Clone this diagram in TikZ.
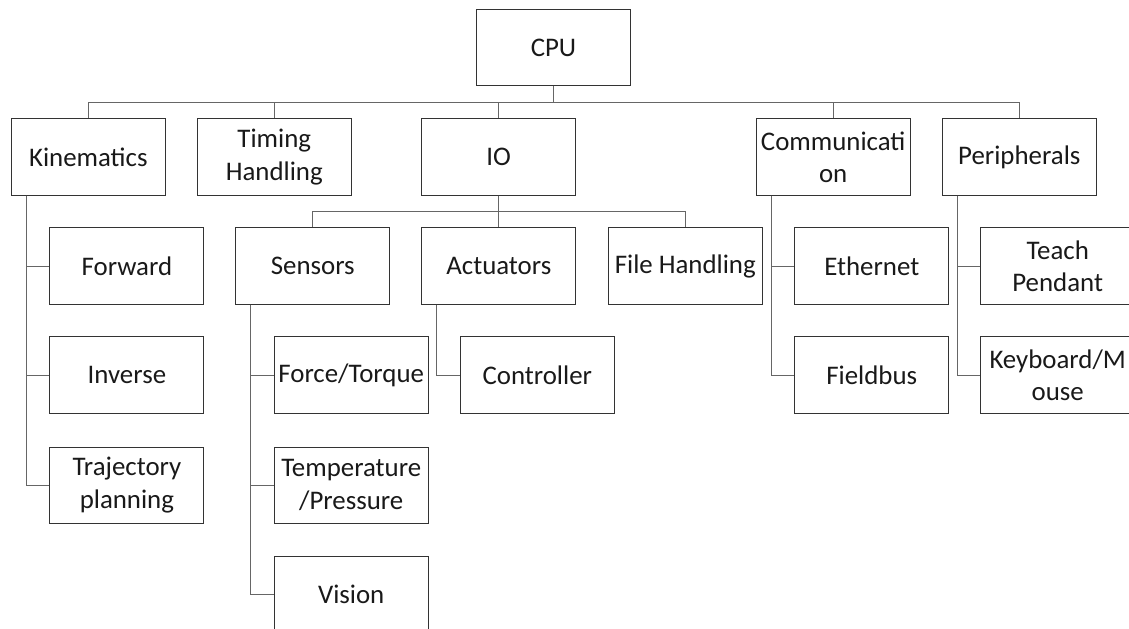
\documentclass[tikz,border=0pt]{standalone}
\usepackage{fontspec}
\setmainfont{Carlito}
\usepackage{tikz}

\begin{document}
\begin{tikzpicture}[x=0.025cm,y=-0.025cm,font=\fontsize{19.1}{23}\selectfont,
  unit/.style={draw=black!80,line width=0.7pt,minimum width=3.85cm,minimum height=1.9cm,inner sep=1pt,align=center,text=black!90},
  link/.style={draw=black!60,line width=0.7pt}]
\path[use as bounding box,clip] (0,0) rectangle (1129,629);
\node[unit] (cpu) at (553.5,47.7) {CPU};
\coordinate (bus) at (0,102);
\coordinate (iobus) at (0,211.7);
\foreach \x/\n/\t in {88.3/kin/Kinematics,274.3/tim/Timing\\Handling,498.7/io/IO,833.2/com/Communicati\\on,1019.3/per/Peripherals}{
  \node[unit] (\n) at (\x,157) {\t};
  \draw[link] (cpu.south) -- (cpu.south |- bus) -| (\n.north);
}
% kinematics
\node[unit] (fwd) at (126.9,266) {Forward};
\node[unit] (inv) at (126.9,375) {Inverse};
\node[unit] (traj) at (126.9,485) {Trajectory\\planning};
% io
\node[unit] (sen) at (312.8,266) {Sensors};
\node[unit] (act) at (498.8,266) {Actuators};
\node[unit] (file) at (685.3,266) {File Handling};
\node[unit] (force) at (351.2,375) {Force/Torque};
\node[unit] (temp) at (351.2,485) {Temperature\\/Pressure};
\node[unit] (vis) at (351.2,594) {Vision};
\node[unit] (ctrl) at (537.3,375) {Controller};
% communication
\node[unit] (eth) at (871.8,266) {Ethernet};
\node[unit] (field) at (871.8,375) {Fieldbus};
% peripherals
\node[unit] (teach) at (1057.7,266) {Teach\\Pendant};
\node[unit] (key) at (1057.7,375) {Keyboard/M\\ouse};

\foreach \n in {sen,act,file}
  \draw[link] (io.south) -- (io.south |- iobus) -| (\n.north);
\foreach \p/\c in {kin/fwd,kin/inv,kin/traj,sen/force,sen/temp,sen/vis,act/ctrl,com/eth,com/field,per/teach,per/key}
  \draw[link] ([xshift=0.39cm]\p.south west) |- (\c.west);
\end{tikzpicture}
\end{document}
